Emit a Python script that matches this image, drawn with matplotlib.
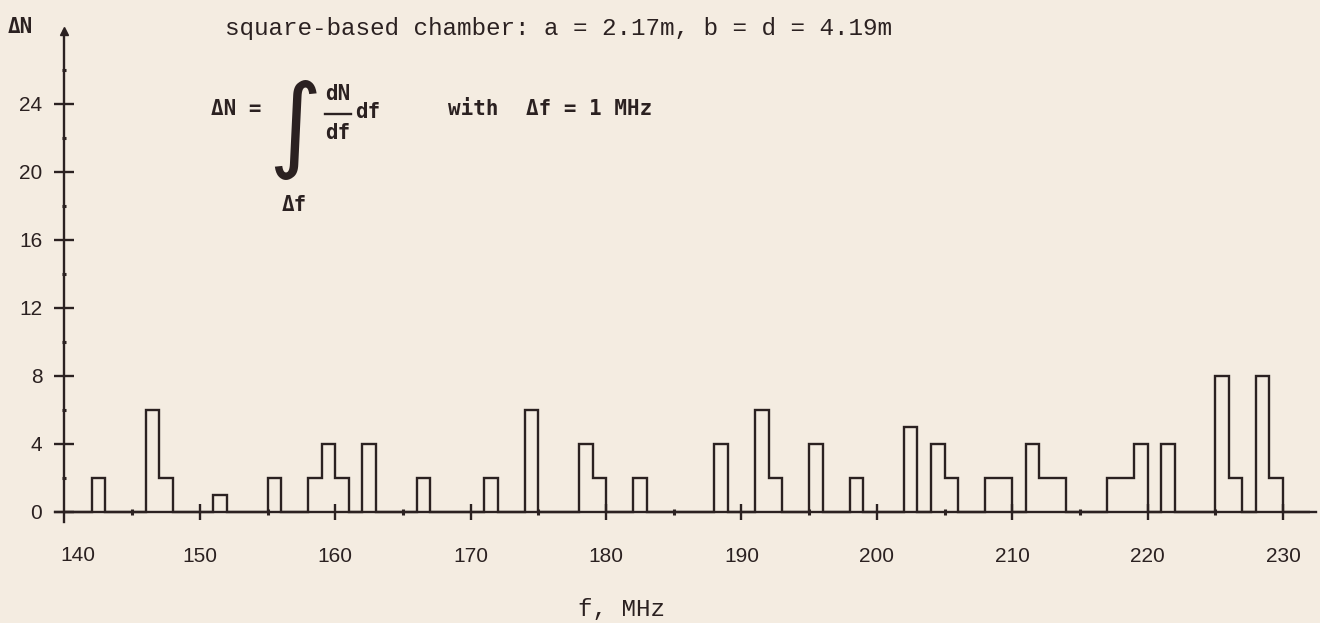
import numpy as np
import matplotlib.pyplot as plt
from matplotlib.lines import Line2D

# left edge of each 1 MHz bin (MHz) and the mode count Delta N in it
bin_left = [142, 146, 147, 151, 155, 158, 159, 160, 162, 166, 171, 174,
            178, 179, 182, 188, 191, 192, 195, 198, 202, 204, 205, 208,
            209, 211, 212, 213, 217, 218, 219, 221, 225, 226, 228, 229]
delta_n = [2, 6, 2, 1, 2, 2, 4, 2, 4, 2, 2, 6,
           4, 2, 2, 4, 6, 2, 4, 2, 5, 4, 2, 2,
           2, 4, 2, 2, 2, 2, 4, 4, 8, 2, 8, 2]

x_ticks = [150, 160, 170, 180, 190, 200, 210, 220, 230]
x_minor = [145, 155, 165, 175, 185, 195, 205, 215, 225]
y_ticks = [0, 4, 8, 12, 16, 20, 24]
y_minor = [2, 6, 10, 14, 18, 22, 26]

f_start, f_stop = 140, 232

BG = "#f4ece1"
INK = "#2b2121"
W, H = 1320, 623


def fpos(x, y):
    # pixel position (from top-left) -> figure fraction
    return x / W, 1 - y / H


def main():
    edges = np.arange(f_start, f_stop + 1)
    counts = np.zeros(len(edges) - 1)
    counts[np.array(bin_left) - f_start] = delta_n

    fig = plt.figure(figsize=(13.2, 6.23), dpi=100, facecolor=BG)
    ax = fig.add_axes([0.0386, 0.1509, 0.958, 0.8186])
    ax.set_facecolor(BG)

    ax.stairs(counts, edges, baseline=0, fill=False, color=INK, linewidth=1.7)

    ax.set_xlim(139.0, 232.4)
    ax.set_ylim(-1, 29)

    for side in ("top", "right"):
        ax.spines[side].set_visible(False)
    ax.spines["left"].set_position(("data", 140))
    ax.spines["bottom"].set_position(("data", 0))
    ax.spines["left"].set_bounds(-0.6, 28.3)
    ax.spines["bottom"].set_bounds(139.3, 232.4)
    for side in ("left", "bottom"):
        ax.spines[side].set_color(INK)
        ax.spines[side].set_linewidth(1.7)

    # arrow head on the y axis
    ax.plot([140], [28.3], marker="^", ms=6, color=INK, clip_on=False)

    ax.set_xticks(x_ticks)
    ax.set_xticks(x_minor, minor=True)
    ax.set_yticks(y_ticks)
    ax.set_yticks(y_minor, minor=True)

    tick_font = dict(family="Liberation Sans", size=15)
    ax.set_xticklabels([str(t) for t in x_ticks], fontdict=tick_font, color=INK)
    ax.set_yticklabels([str(t) for t in y_ticks], fontdict=tick_font, color=INK)

    ax.tick_params(axis="x", which="major", direction="inout", length=11,
                   width=1.7, color=INK, pad=19.5)
    ax.tick_params(axis="x", which="minor", direction="inout", length=4,
                   width=2.2, color=INK)
    ax.tick_params(axis="y", which="major", direction="inout", length=14,
                   width=1.7, color=INK, pad=9)
    ax.tick_params(axis="y", which="minor", direction="inout", length=3,
                   width=2.2, color=INK)

    # the 140 label sits a bit to the right of the y axis
    ax.text(141.0, -2.55, "140", ha="center", va="center", color=INK,
            **tick_font)

    mono = ["Liberation Mono", "DejaVu Sans Mono"]
    fig.text(*fpos(225, 29), "square-based chamber: a = 2.17m, b = d = 4.19m",
             family=mono, size=17.5, color=INK, ha="left", va="center")
    fig.text(*fpos(622, 609), "f, MHz", family=mono, size=17.5, color=INK,
             ha="center", va="center")

    bold = dict(family=["DejaVu Sans Mono"], weight="bold", size=15, color=INK)
    fig.text(*fpos(8, 27), "\u0394N", ha="left", va="center", **bold)

    # formula: dN = int_df dN/df df  with  df = 1 MHz
    fig.text(*fpos(211, 109), "\u0394N =", ha="left", va="center", **bold)
    fig.text(*fpos(295, 130), "\u222b", ha="center", va="center",
             family="DejaVu Sans", size=74, color=INK)
    fig.text(*fpos(338, 94), "dN", ha="center", va="center", **bold)
    fig.text(*fpos(338, 133), "df", ha="center", va="center", **bold)
    fig.add_artist(Line2D([325 / W, 351 / W], [1 - 114 / H, 1 - 114 / H],
                          color=INK, linewidth=1.7))
    fig.text(*fpos(355, 112), "df", ha="left", va="center", **bold)
    fig.text(*fpos(294, 205), "\u0394f", ha="center", va="center", **bold)
    fig.text(*fpos(448, 109), "with", ha="left", va="center", **bold)
    fig.text(*fpos(526, 109), "\u0394f = 1 MHz", ha="left", va="center",
             **bold)

    fig.savefig("out.png", dpi=100, facecolor=BG)


if __name__ == "__main__":
    main()
